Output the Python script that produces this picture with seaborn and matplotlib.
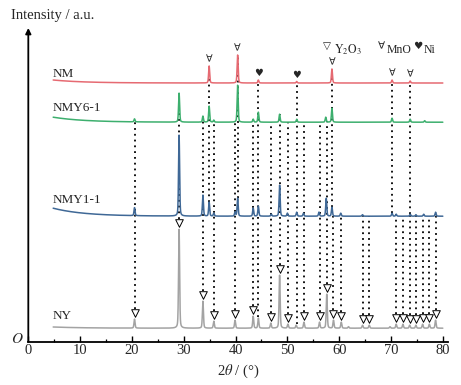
import numpy as np
import pandas as pd
import matplotlib
matplotlib.use("Agg")
import matplotlib.pyplot as plt
import seaborn as sns

# ---------------- data ----------------
# peak positions (2theta, deg) and heights (arbitrary, stacked units)
nm_pos = [34.9, 40.4, 44.4, 51.8, 58.6, 70.2, 73.7]
nm_hgt = [17, 28, 3, 1.5, 14, 3, 2]
nm_base, nm_rise = 258.7, 3.0

nmy6_pos = [20.5, 29.1, 33.7, 34.9, 35.8, 40.4, 43.4, 44.4, 48.5, 51.8, 57.4, 58.6, 70.2, 73.7, 76.5]
nmy6_hgt = [3, 29, 6, 16, 2, 37, 3, 10, 8, 3, 5, 14, 4, 3, 1.5]
nmy6_base, nmy6_rise = 219.5, 5.0

nmy1_pos = [20.5, 29.1, 33.7, 34.9, 35.8, 39.9, 40.4, 43.4, 44.4, 46.9, 48.5, 50.0, 51.8, 53.1,
            56.1, 57.5, 58.6, 60.3, 64.5, 70.2, 71.0, 73.7, 74.8, 76.3, 78.6]
nmy1_hgt = [8, 81, 21, 14, 3, 4, 18, 8, 10, 2, 31, 3, 4, 3,
            4, 18, 9, 3, 1.5, 3, 2, 2, 1.5, 2, 4]
nmy1_base, nmy1_rise = 125.5, 8.0

ny_pos = [20.5, 29.1, 33.7, 35.8, 39.9, 43.4, 44.4, 46.8, 48.5, 50.1, 51.7, 53.2, 56.2, 57.6,
          58.9, 60.4, 61.8, 64.5, 65.8, 69.8, 71.0, 72.3, 73.6, 74.8, 76.1, 77.4, 78.6]
ny_hgt = [9, 99, 27, 7, 8, 12, 10, 5, 53, 4, 3, 6, 6, 34,
          8, 6, 1.5, 3, 3, 1.5, 4, 4, 3, 3, 4, 4, 8]
ny_base, ny_rise = 13.5, 1.2

# phase markers
y2o3_pos = [20.5, 29.1, 33.7, 35.8, 39.9, 43.4, 46.8, 48.5, 50.1, 53.2, 56.2, 57.6,
            58.9, 60.4, 64.5, 65.8, 71.0, 72.3, 73.6, 74.8, 76.1, 77.4, 78.6]
mno_pos = [34.9, 40.4, 58.6, 70.2, 73.7]
ni_pos = [44.4, 51.8]

sample_names = ["NM", "NMY6-1", "NMY1-1", "NY"]
colors = {"NM": "#e66a72", "NMY6-1": "#3daf6e", "NMY1-1": "#3f6896", "NY": "#a3a3a3"}

# ---------------- build patterns ----------------
x = np.linspace(4.8, 80.0, 4000)
FWHM = 0.24


def pattern(pos, hgt, base, rise):
    y = base + rise * np.exp(-(x - 4.8) / 6.0)
    for p, h in zip(pos, hgt):
        d = (x - p) / FWHM
        g = np.exp(-4 * np.log(2) * d ** 2)
        l = 1.0 / (1 + 4 * d ** 2)
        y = y + h * (0.65 * g + 0.35 * l)
    return y


curves = {
    "NM": pattern(nm_pos, nm_hgt, nm_base, nm_rise),
    "NMY6-1": pattern(nmy6_pos, nmy6_hgt, nmy6_base, nmy6_rise),
    "NMY1-1": pattern(nmy1_pos, nmy1_hgt, nmy1_base, nmy1_rise),
    "NY": pattern(ny_pos, ny_hgt, ny_base, ny_rise),
}
df = pd.concat([pd.DataFrame({"tt": x, "I": curves[k], "sample": k}) for k in sample_names])


def at(name, p):
    return float(np.interp(p, x, curves[name]))


def top(name, p):
    m = (x > p - 0.3) & (x < p + 0.3)
    return float(curves[name][m].max())


# ---------------- figure ----------------
sns.set_theme(style="ticks")
plt.rcParams["font.family"] = ["Liberation Serif", "DejaVu Serif", "DejaVu Sans"]
plt.rcParams["mathtext.fontset"] = "stix"

fig = plt.figure(figsize=(4.61, 3.85), dpi=100)
ax = fig.add_axes([0.0614, 0.11247, 0.9104, 0.8148])

sns.lineplot(data=df, x="tt", y="I", hue="sample", palette=colors, estimator=None,
             sort=False, legend=False, lw=1.1, ax=ax, zorder=3)

dot = (0, (1, 2.2))
# Y2O3 reference lines from NY up to the upper patterns
for p in y2o3_pos:
    y0 = top("NY", p) + 10
    upper = "NMY6-1" if p < 58.8 else "NMY1-1"
    y1 = at(upper, p)
    ax.vlines(p, y0, y1, colors="black", linestyles=dot, lw=1.3, zorder=2)
# MnO / Ni lines from NM downwards
for p in mno_pos:
    ax.vlines(p, at("NMY1-1", p), at("NM", p), colors="black", linestyles=dot, lw=1.3, zorder=2)
for p in ni_pos:
    ax.vlines(p, top("NY", p) + 1, at("NM", p), colors="black", linestyles=dot, lw=1.3, zorder=2)

# markers
ax.scatter(y2o3_pos, [top("NY", p) + 6 for p in y2o3_pos], marker="v", s=30,
           facecolors="white", edgecolors="black", linewidths=0.7, zorder=5)
for p in mno_pos:
    ax.text(p, top("NM", p) + 7, "∀", family=["DejaVu Sans"], fontsize=7,
            ha="center", va="center", zorder=5)
for p in ni_pos:
    ax.text(p, top("NM", p) + 7, "♥", family=["DejaVu Sans"], fontsize=7,
            ha="center", va="center", zorder=5)

# sample labels
label_y = {"NM": 267.7, "NMY6-1": 233.7, "NMY1-1": 141.7, "NY": 25.7}
for k in sample_names:
    ax.text(4.77, label_y[k], k, fontsize=9.5, ha="left", va="center")

# phase legend
ly = 295.7
ax.text(57.7, ly, "▽", family=["DejaVu Sans"], fontsize=7.5, ha="center", va="center")
ax.text(59.0, 288.7, r"$\mathrm{Y_2O_3}$", fontsize=8.5, ha="left", va="baseline")
ax.text(68.1, ly, "∀", family=["DejaVu Sans"], fontsize=7.5, ha="center", va="center")
ax.text(69.1, 288.7, "MnO", fontsize=8.5, ha="left", va="baseline")
ax.text(75.2, ly, "♥", family=["DejaVu Sans"], fontsize=7.5, ha="center", va="center")
ax.text(76.3, 288.7, "Ni", fontsize=8.5, ha="left", va="baseline")

# axes styling
ax.set_xlim(0, 81)
ax.set_ylim(0, 313.7)
ax.set_xticks(np.arange(0, 81, 10))
ax.set_xticks(np.arange(5, 80, 10), minor=True)
ax.set_yticks([])
ax.tick_params(axis="x", which="major", direction="in", length=4, width=1.0,
               labelsize=10.5, pad=1.5, color="black")
ax.tick_params(axis="x", which="minor", direction="in", length=2.5, width=0.9, color="black")
for s in ["top", "right", "left"]:
    ax.spines[s].set_visible(False)
ax.spines["bottom"].set_color("black")
ax.spines["bottom"].set_linewidth(1.3)
ax.set_xlabel(r"2$\theta$ / (°)", fontsize=10.5, labelpad=4)
ax.set_ylabel("")
ax.annotate("", xy=(0, 1), xytext=(0, 0), xycoords="axes fraction",
            arrowprops=dict(arrowstyle="-|>", color="black", lw=1.3,
                            mutation_scale=8, shrinkA=0, shrinkB=0), annotation_clip=False)
fig.text(11 / 461, 1 - 16 / 385, "Intensity / a.u.", fontsize=10.5, ha="left", va="center")
fig.text(17 / 461, 1 - 339 / 385, r"$O$", fontsize=11, ha="center", va="center")

fig.savefig("out.png", dpi=100)
